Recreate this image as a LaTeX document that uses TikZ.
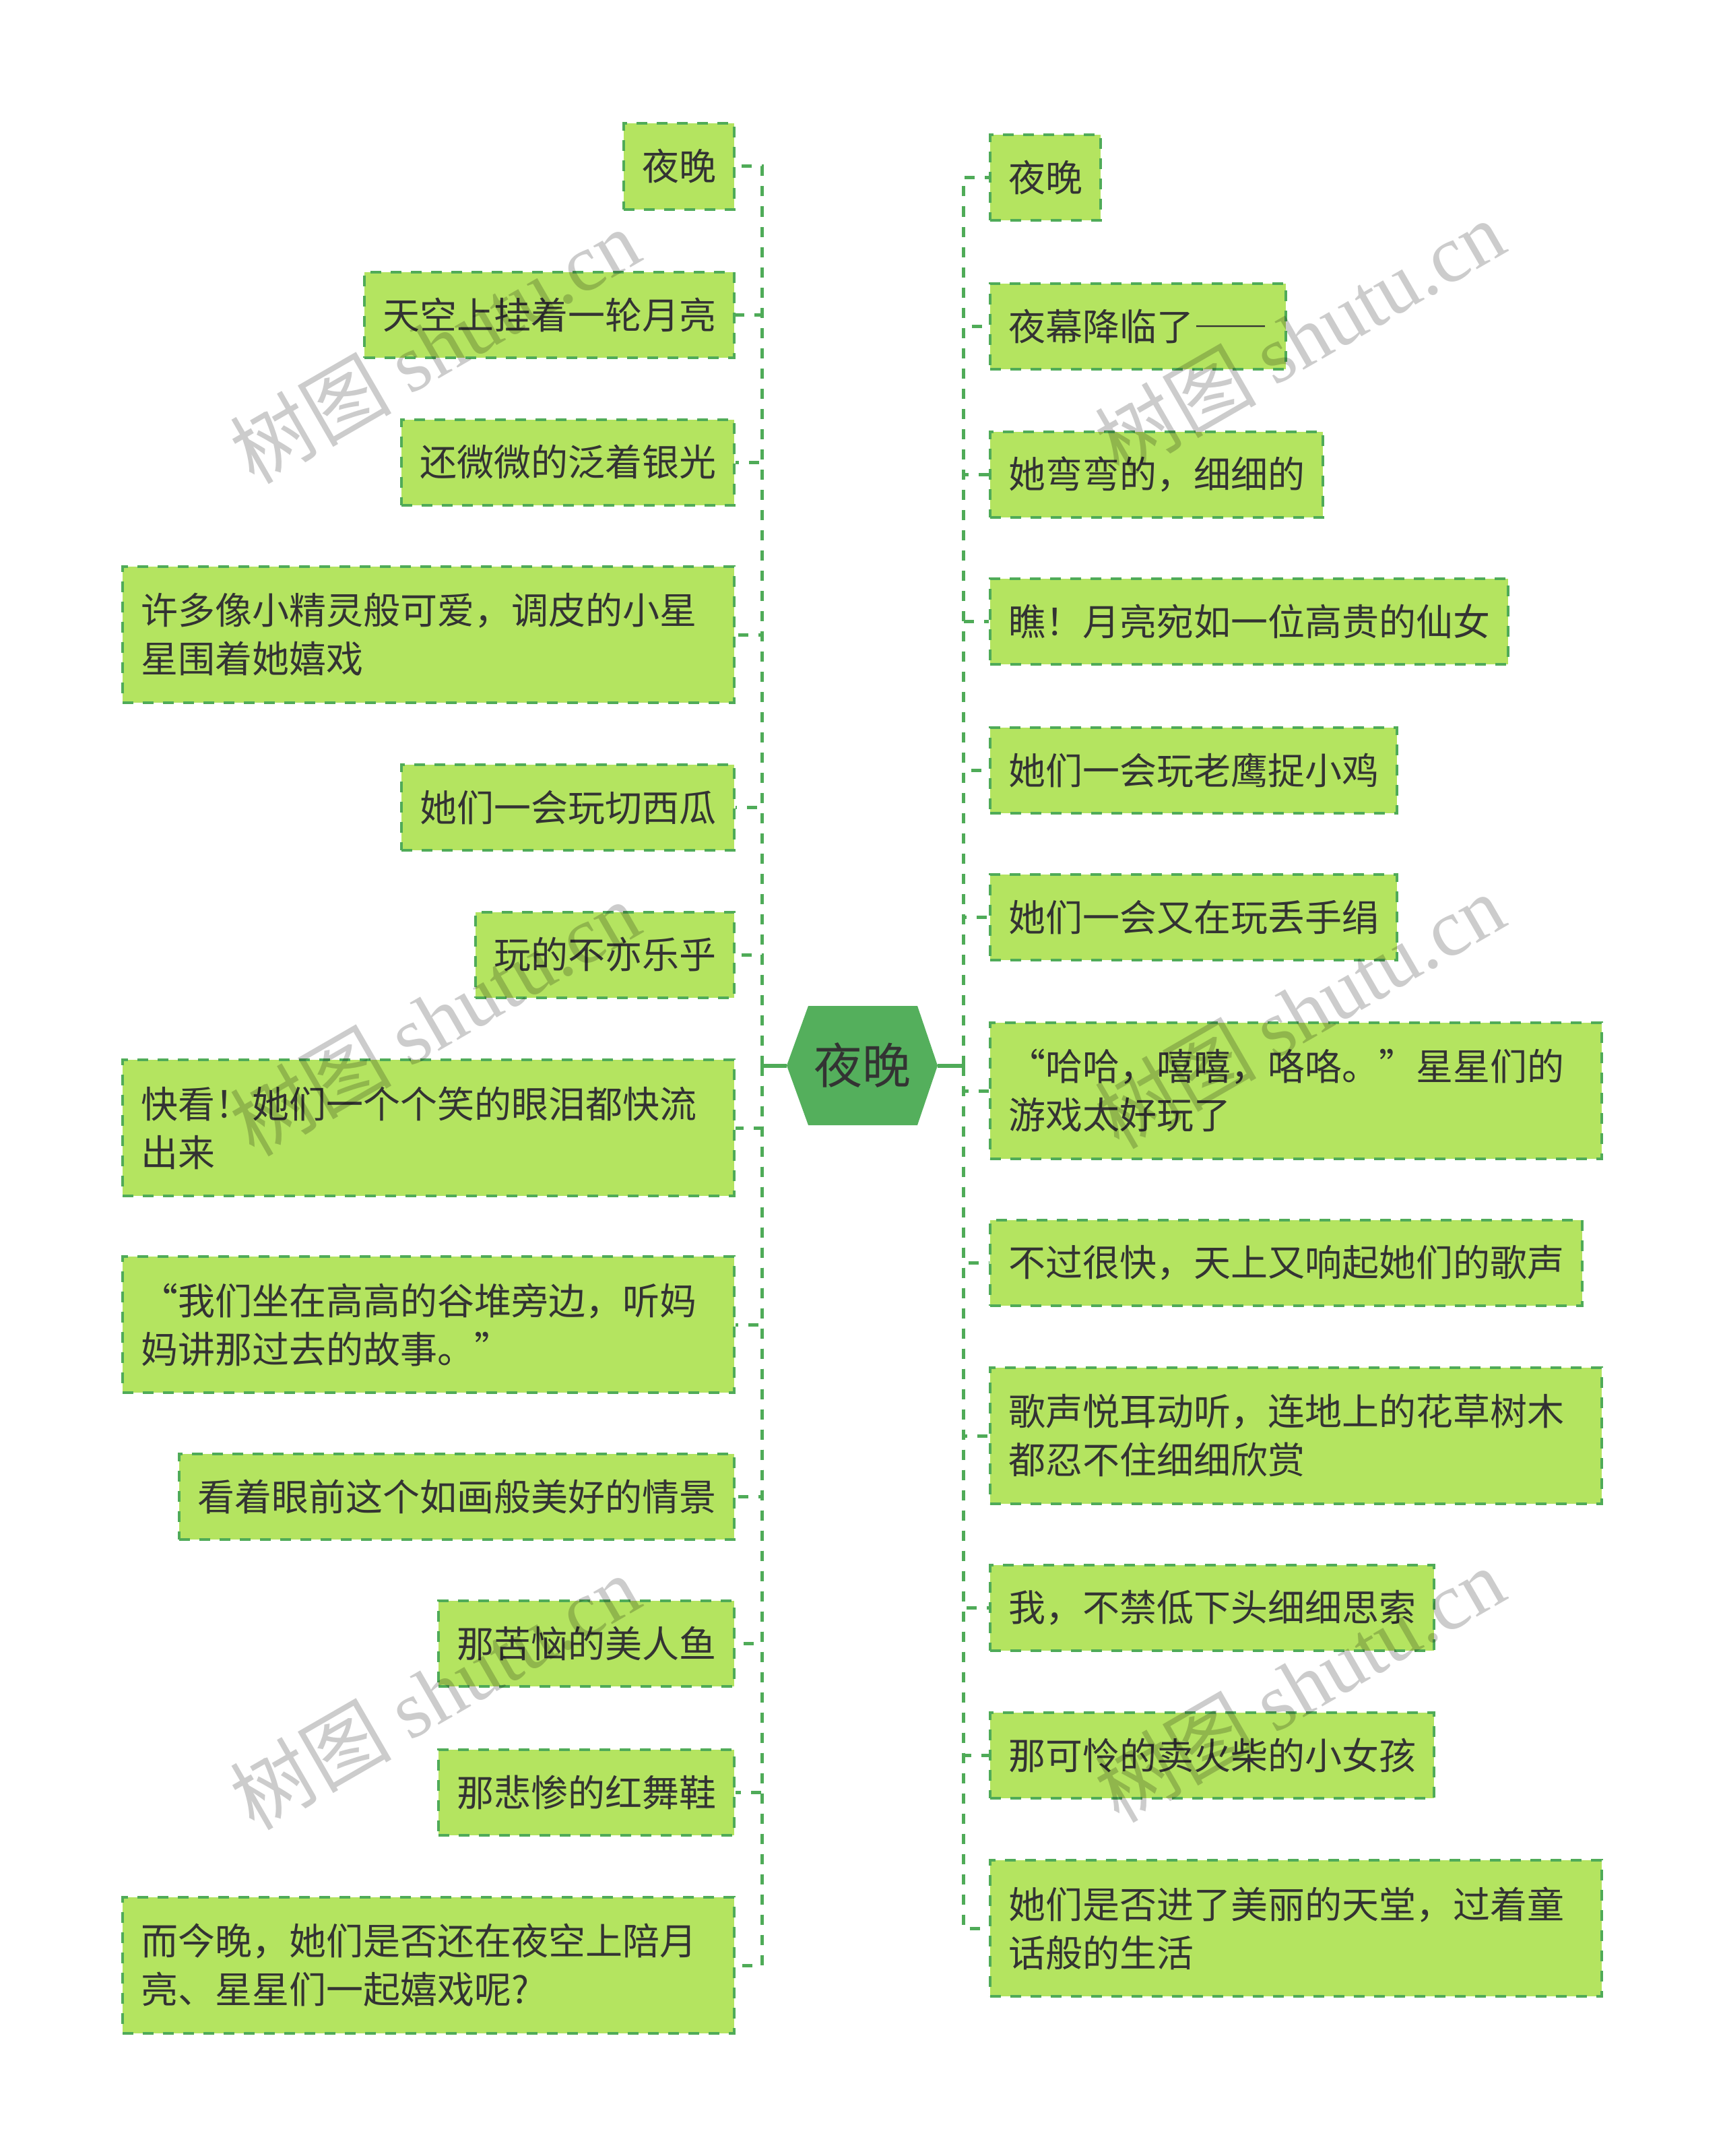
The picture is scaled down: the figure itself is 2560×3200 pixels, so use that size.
\documentclass[tikz,border=0pt]{standalone}
\usepackage{fontspec}
\setmainfont{Noto Sans CJK SC}
\newfontfamily\wmserif{Liberation Serif}
\usetikzlibrary{calc}
\definecolor{leafFill}{RGB}{180,228,96}
\definecolor{lineGreen}{RGB}{79,171,88}
\definecolor{rootFill}{RGB}{84,175,92}
\definecolor{txt}{RGB}{51,51,51}
\begin{document}
\begin{tikzpicture}[x=0.5pt,y=-0.5pt,
  leaf/.style={draw=lineGreen, fill=leafFill, line width=2pt, dash pattern=on 8pt off 7pt,
    text=txt, font=\fontsize{27.5pt}{36pt}\selectfont, inner xsep=13.5pt, inner ysep=0pt,
    minimum height=63.5pt},
  leafL/.style={leaf, anchor=east},
  leafR/.style={leaf, anchor=west},
  twoline/.style={text width=427pt, align=left, minimum height=101pt},
  conn/.style={draw=lineGreen, line width=2.5pt, dash pattern=on 7.5pt off 7.5pt},
  rootline/.style={draw=lineGreen, line width=3pt},
  rootnode/.style={minimum width=112pt, minimum height=88.5pt, inner sep=0pt, text=txt,
    font=\fontsize{36pt}{40pt}\selectfont},
  wm/.style={text=black, text opacity=0.2, rotate=30, font=\fontsize{60pt}{60pt}\selectfont}
]
\fill[white] (0,0) rectangle (2560,3200);
\useasboundingbox (0,0) rectangle (2560,3200);

% root hexagon
\coordinate (c) at (1280,1581.5);
\fill[rootFill] ($(c)+(-112,0)$) -- ($(c)+(-80,-88.5)$) -- ($(c)+(82,-88.5)$) -- ($(c)+(112,0)$)
  -- ($(c)+(82,88.5)$) -- ($(c)+(-80,88.5)$) -- cycle;
\node[rootnode] (root) at (c) {夜晚};

\coordinate (lt) at (1131,1581.5);
\coordinate (rt) at (1430,1581.5);

% left leaves
\node[leafL] (L1) at (1092,247) {夜晚};
\node[leafL] (L2) at (1092,467.5) {天空上挂着一轮月亮};
\node[leafL] (L3) at (1092,686) {还微微的泛着银光};
\node[leafL,twoline] (L4) at (1092,942) {许多像小精灵般可爱，调皮的小星\\星围着她嬉戏};
\node[leafL] (L5) at (1092,1198.5) {她们一会玩切西瓜};
\node[leafL] (L6) at (1092,1417) {玩的不亦乐乎};
\node[leafL,twoline] (L7) at (1092,1674) {快看！她们一个个笑的眼泪都快流\\出来};
\node[leafL,twoline] (L8) at (1092,1966) {“我们坐在高高的谷堆旁边，听妈\\妈讲那过去的故事。”};
\node[leafL] (L9) at (1092,2221) {看着眼前这个如画般美好的情景};
\node[leafL] (L10) at (1092,2439.5) {那苦恼的美人鱼};
\node[leafL] (L11) at (1092,2660) {那悲惨的红舞鞋};
\node[leafL,twoline] (L12) at (1092,2917) {而今晚，她们是否还在夜空上陪月\\亮、星星们一起嬉戏呢?};

% right leaves
\node[leafR] (R1) at (1468,263.5) {夜晚};
\node[leafR] (R2) at (1468,484) {夜幕降临了{\addfontfeatures{RawFeature=+fwid}——}};
\node[leafR] (R3) at (1468,704.5) {她弯弯的，细细的};
\node[leafR] (R4) at (1468,922.5) {瞧！月亮宛如一位高贵的仙女};
\node[leafR] (R5) at (1468,1143.5) {她们一会玩老鹰捉小鸡};
\node[leafR] (R6) at (1468,1361.5) {她们一会又在玩丢手绢};
\node[leafR,twoline] (R7) at (1468,1619) {“哈哈，嘻嘻，咯咯。”星星们的\\游戏太好玩了};
\node[leafR] (R8) at (1468,1874) {不过很快，天上又响起她们的歌声};
\node[leafR,twoline] (R9) at (1468,2131) {歌声悦耳动听，连地上的花草树木\\都忍不住细细欣赏};
\node[leafR] (R10) at (1468,2386.5) {我，不禁低下头细细思索};
\node[leafR] (R11) at (1468,2605) {那可怜的卖火柴的小女孩};
\node[leafR,twoline] (R12) at (1468,2862) {她们是否进了美丽的天堂，过着童\\话般的生活};

% connectors
\draw[rootline] (root.west) -- (lt);
\draw[rootline] (root.east) -- (rt);
\foreach \n in {L1,L2,L3,L4,L5,L6,L7,L8,L9,L10,L11,L12}
  \draw[conn] (lt) |- (\n.east);
\foreach \n in {R1,R2,R3,R4,R5,R6,R7,R8,R9,R10,R11,R12}
  \draw[conn] (rt) |- (\n.west);

% watermarks
\node[wm] (w1) at (645,513) {树图 {\wmserif shutu.cn}};
\node[wm] (w2) at (645,1511) {树图 {\wmserif shutu.cn}};
\node[wm] (w3) at (645,2511) {树图 {\wmserif shutu.cn}};
\node[wm] (w4) at (1929,500) {树图 {\wmserif shutu.cn}};
\node[wm] (w5) at (1929,1500) {树图 {\wmserif shutu.cn}};
\node[wm] (w6) at (1929,2500) {树图 {\wmserif shutu.cn}};
\end{tikzpicture}
\end{document}
